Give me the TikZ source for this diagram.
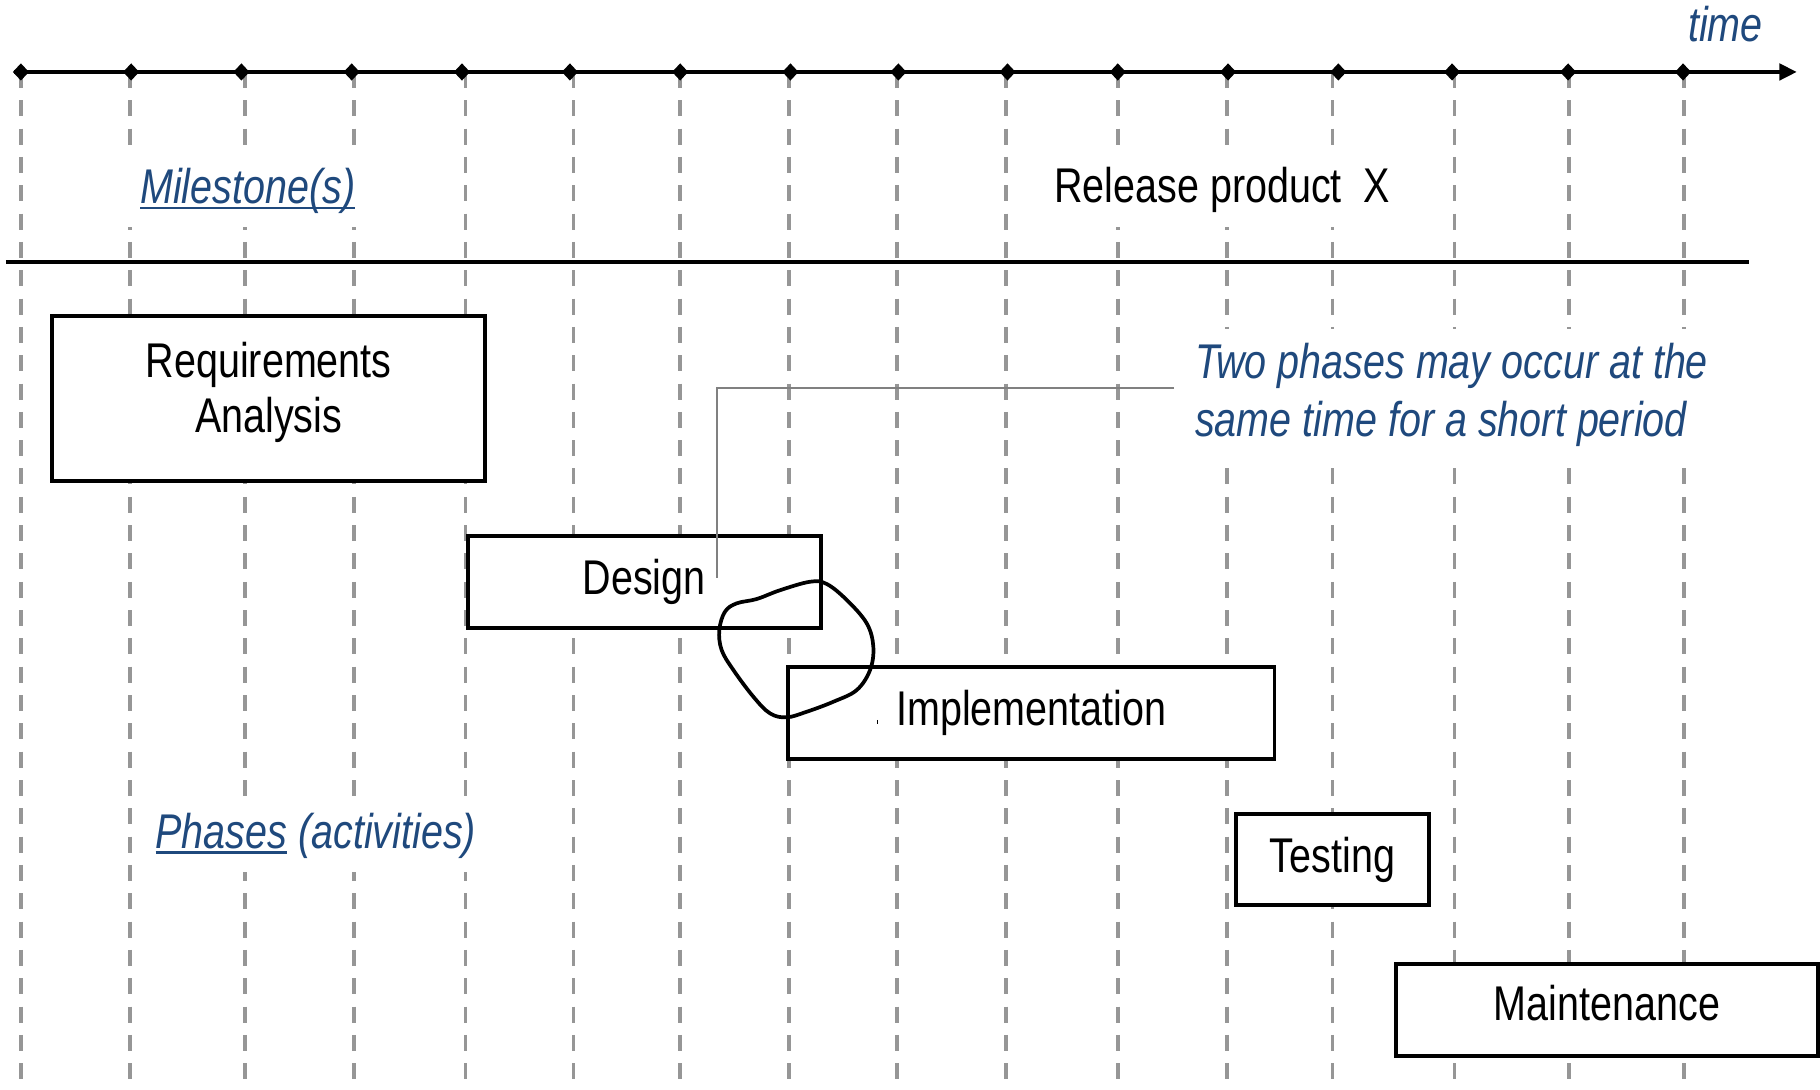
\documentclass[tikz,border=0pt]{standalone}
\usepackage{fontspec}
\setmainfont[FakeStretch=0.81]{Liberation Sans}
\usetikzlibrary{arrows.meta,shapes.geometric}
\definecolor{noteblue}{RGB}{31,73,125}
\definecolor{gridgray}{RGB}{150,150,150}
\definecolor{leadgray}{RGB}{128,128,128}
\newsavebox\ulbox
\newcommand\ulined[1]{\sbox\ulbox{#1}\rlap{\rule[-0.12em]{\wd\ulbox}{0.05em}}\usebox\ulbox}

\begin{document}
\begin{tikzpicture}[x=1pt,y=-1pt,
  every node/.style={font=\fontsize{42}{48}\selectfont},
  tickmark/.style={diamond,fill=black,inner sep=0pt,minimum width=14pt,minimum height=15pt},
  gridline/.style={draw=gridgray,line width=3.2pt,dash pattern=on 13.8pt off 10.6pt},
  phasebox/.style={draw=black,line width=3.4pt,fill=white,inner sep=0pt,align=center},
  phasetext/.style={inner sep=0pt,align=center},
  bluenote/.style={text=noteblue,font=\fontsize{42}{50}\selectfont\itshape,fill=white,inner xsep=14pt,inner ysep=12pt},
  plainnote/.style={text=black,fill=white,inner xsep=14pt,inner ysep=12pt},
  bar/.style={draw=black,line width=3.4pt},
  leader/.style={draw=leadgray,line width=1.5pt},
  loopline/.style={draw=black,line width=3.2pt,line join=round}
]
\useasboundingbox (0,0) rectangle (1568,939);

% vertical time grid
\foreach \gx in {18,112,211,305,401,494,586,680,773,867,963,1057,1148,1253,1352,1451}
  \draw[gridline] (\gx,62) -- (\gx,939);

% time axis with its ticks
\coordinate (axisstart) at (12,62);
\coordinate (axisend) at (1548,62);
\draw[bar,-{Triangle[length=15pt,width=14pt]}] (axisstart) -- (axisend);
\foreach \tx [count=\i] in {18,113,208,303,398,491,586,681,774,868,963,1058,1153,1251,1351,1450}
  \node[tickmark] (tick\i) at (\tx,62) {};
\node[text=noteblue,font=\fontsize{42}{48}\selectfont\itshape,anchor=base] (timelabel) at (1486.5,36) {time};

% milestone row
\coordinate (sepL) at (5,226);
\coordinate (sepR) at (1507,226);
\draw[bar] (sepL) -- (sepR);
\node[bluenote,anchor=base] (mile) at (213.5,175) {\ulined{Milestone(s)}};
\node[plainnote,anchor=base] (release) at (1053,174.6) {Release product\ \ X};

% phases
\node[bluenote,anchor=base] (phases) at (272,730.6) {\ulined{Phases} (activities)};
\node[bluenote,anchor=west,align=left,inner xsep=18pt] (twophases) at (1011.5,340)
  {Two phases may occur at the\\same time for a short period};

\node[phasebox,minimum width=373pt,minimum height=142pt] (req) at (231.5,343) {};
\node[phasetext] (reqtext) at ([yshift=5pt]req.center) {Requirements\\Analysis};
\node[phasebox,minimum width=304pt,minimum height=79pt] (design) at (555,501.5) {Design};
\node[phasebox,minimum width=419pt,minimum height=79pt] (impl) at (888.5,614.5) {Implementation};
\node[phasebox,minimum width=166pt,minimum height=79pt] (test) at (1148,740.5) {Testing};
\node[phasebox,minimum width=363pt,minimum height=79pt,text depth=12.5pt] (maint) at (1384.5,870) {Maintenance};

% callout to the overlap
\coordinate (leadend) at (617.5,498);
\draw[leader] ([yshift=6pt]twophases.west) -| (leadend);
\draw[loopline] plot[smooth cycle, tension=0.6] coordinates {
  (619.7,542.8) (624.6,527.0) (634.7,519.8) (651.9,516.1) (672.0,508.5)
  (697.9,501.2) (712.2,503.1) (729.5,516.9) (746.7,537.0) (752.4,557.1)
  (749.6,577.2) (738.1,594.5) (717.9,604.6) (695.0,613.2) (677.8,618.0)
  (663.4,614.6) (649.0,600.2) (631.8,577.2) (621.7,560.0)};
\draw[line width=0.8pt] (756,620.3) -- (756,623.8);
\end{tikzpicture}
\end{document}
